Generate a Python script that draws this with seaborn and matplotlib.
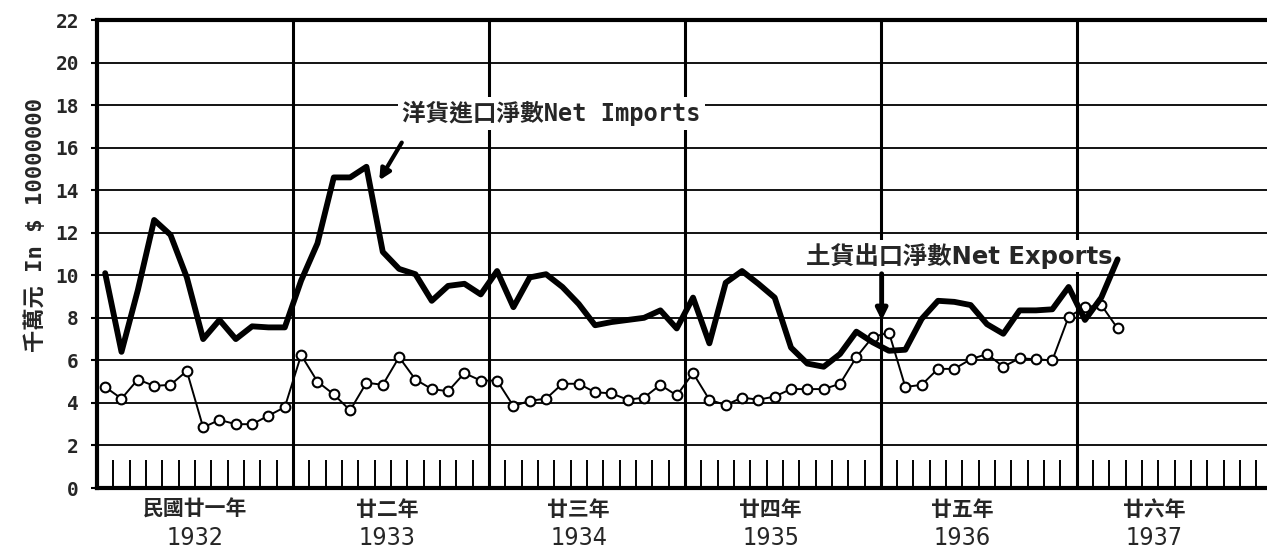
import numpy as np
import pandas as pd
import matplotlib
matplotlib.use("Agg")
import matplotlib.pyplot as plt
import seaborn as sns

# Monthly net imports / net exports of treasure, in units of $10,000,000
years = [1932, 1933, 1934, 1935, 1936, 1937]
year_labels_cn = ["民國廿一年", "廿二年", "廿三年", "廿四年", "廿五年", "廿六年"]

net_imports = [
    10.1, 6.4, 9.3, 12.6, 11.9, 9.9, 7.0, 7.9, 7.0, 7.6, 7.55, 7.55,      # 1932
    9.75, 11.5, 14.6, 14.6, 15.1, 11.1, 10.3, 10.05, 8.8, 9.5, 9.6, 9.1,  # 1933
    10.2, 8.5, 9.9, 10.05, 9.45, 8.65, 7.65, 7.8, 7.9, 8.0, 8.35, 7.5,    # 1934
    8.95, 6.8, 9.65, 10.2, 9.6, 8.95, 6.6, 5.85, 5.7, 6.3, 7.35, 6.85,    # 1935
    6.45, 6.5, 7.95, 8.8, 8.75, 8.6, 7.7, 7.25, 8.35, 8.35, 8.4, 9.45,    # 1936
    7.9, 8.95, 10.75,                                                     # 1937
]
net_exports = [
    4.75, 4.2, 5.1, 4.8, 4.85, 5.5, 2.85, 3.2, 3.0, 3.0, 3.4, 3.8,        # 1932
    6.25, 5.0, 4.4, 3.65, 4.95, 4.85, 6.15, 5.1, 4.65, 4.55, 5.4, 5.05,   # 1933
    5.05, 3.85, 4.1, 4.2, 4.9, 4.9, 4.5, 4.45, 4.15, 4.25, 4.85, 4.35,    # 1934
    5.4, 4.15, 3.9, 4.25, 4.15, 4.3, 4.65, 4.65, 4.65, 4.9, 6.15, 7.1,    # 1935
    7.3, 4.75, 4.85, 5.6, 5.6, 6.05, 6.3, 5.7, 6.1, 6.05, 6.0, 8.05,      # 1936
    8.5, 8.6, 7.5,                                                        # 1937
]
y_ticks = list(range(0, 23, 2))

sns.set_style("white")
plt.rcParams["font.family"] = ["DejaVu Sans", "Noto Sans CJK TC"]
CJK = ["Noto Sans CJK TC", "DejaVu Sans"]

W, H = 1267, 557
fig = plt.figure(figsize=(W / 100, H / 100), dpi=100)
n_months = 12 * len(years)
px_per_month = 16.33
ax = fig.add_axes([97 / W, 69 / H, n_months * px_per_month / W, 468 / H])

df = pd.DataFrame({
    "month": np.arange(len(net_imports)) + 0.5,
    "imports": net_imports,
    "exports": net_exports,
})

# grid: horizontal rules, year dividers, month ticks along the bottom band
for v in y_ticks[1:-1]:
    ax.axhline(v, color="black", lw=1.3, zorder=1)
for k in range(1, len(years)):
    ax.axvline(12 * k, color="black", lw=2.2, zorder=1)
month_edges = [m for m in range(1, n_months) if m % 12 != 0]
ax.vlines(month_edges, 0, 1.3, color="black", lw=1.4, zorder=1)

sns.lineplot(data=df, x="month", y="imports", ax=ax, color="black",
             lw=4.2, zorder=5, solid_joinstyle="round")
sns.lineplot(data=df, x="month", y="exports", ax=ax, color="black",
             lw=1.4, marker="o", markersize=7, markerfacecolor="white",
             markeredgecolor="black", markeredgewidth=1.5, zorder=4)

ax.set_xlim(0, n_months)
ax.set_ylim(0, 22)
ax.set_xlabel("")
ax.set_ylabel("")
ax.set_xticks([])
ax.set_yticks(y_ticks)
ax.set_yticklabels([str(t) for t in y_ticks], fontsize=14, fontweight="bold",
                   family="DejaVu Sans Mono")
ax.tick_params(axis="y", left=True, length=4, width=1.5, pad=9, color="black")
for side in ["left", "bottom", "top"]:
    ax.spines[side].set_linewidth(3)
    ax.spines[side].set_color("black")
ax.spines["right"].set_visible(False)

# series labels with arrows
ax.text(18.7, 17.6, "洋貨進口淨數Net Imports", fontsize=17, fontweight="bold",
        family=["DejaVu Sans Mono", "Noto Sans CJK TC"], va="center", ha="left",
        zorder=3, bbox=dict(facecolor="white", edgecolor="none", pad=3))
ax.annotate("", xy=(17.2, 14.35), xytext=(18.75, 16.35),
            arrowprops=dict(arrowstyle="-|>", lw=3, color="black",
                            mutation_scale=16), zorder=6)
ax.text(43.4, 10.9, "土貨出口淨數Net Exports", fontsize=17.5, fontweight="bold",
        family=["DejaVu Sans", "Noto Sans CJK TC"], va="center", ha="left",
        zorder=3, bbox=dict(facecolor="white", edgecolor="none", pad=2))
ax.annotate("", xy=(48.05, 7.75), xytext=(48.05, 10.2),
            arrowprops=dict(arrowstyle="-|>", lw=3.5, color="black",
                            mutation_scale=16), zorder=6)

# year labels beneath the axis
for i, (yr, cn) in enumerate(zip(years, year_labels_cn)):
    xc = 12 * i + 6 - 0.25 * i
    ax.text(xc, -0.045, cn, transform=ax.get_xaxis_transform(), ha="center",
            va="center", fontsize=15, fontweight="bold", family=CJK)
    ax.text(xc, -0.107, str(yr), transform=ax.get_xaxis_transform(),
            ha="center", va="center", fontsize=18, family="DejaVu Sans",
            fontstretch="condensed")

fig.text(35 / W, 1 - 225 / H, "千萬元 In $ 10000000", rotation=90,
         ha="center", va="center", fontsize=16, fontweight="bold",
         family=["DejaVu Sans Mono", "Noto Sans CJK TC"])

fig.savefig("out.png", dpi=100, facecolor="white")
